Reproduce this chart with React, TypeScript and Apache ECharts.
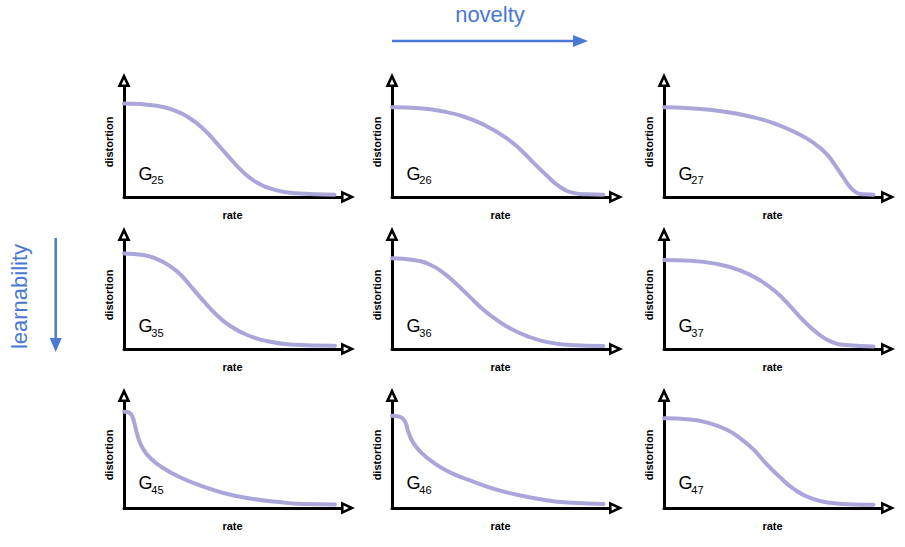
import { useEffect, useRef } from 'react';
import * as echarts from 'echarts';

// Panel identifiers (row digit = learnability level, column digit = novelty level)
const panelIds = ['25', '26', '27', '35', '36', '37', '45', '46', '47'];

// Rate–distortion curves, [rate, distortion] on a 0–100 scale per panel
const g25 = [[0, 85], [15, 83], [24, 78], [30, 72], [36, 63], [42.5, 49.5], [48.5, 36], [55, 22.5], [61, 13.5], [70, 6.3], [79, 3.3], [97, 2.1]];
const g26 = [[0, 81.5], [13, 80.6], [23.7, 77.7], [33, 73.2], [42, 66], [51.4, 55.4], [59, 43.5], [65, 31.5], [71.3, 19.6], [77.4, 9.2], [83.6, 3.8], [89.7, 2.4], [97.4, 2.1]];
const g27 = [[0, 81.5], [12, 80.6], [27.3, 77.7], [39.6, 73.2], [50.4, 67.2], [61, 58.3], [68.8, 49.4], [75, 39], [79.5, 27], [82.6, 18], [85.7, 9.2], [88.8, 3.8], [92, 2.4], [96.5, 2.1]];
const g35 = [[0, 88.5], [9, 87], [15, 83.5], [21, 77], [26, 69], [31, 57.5], [36.6, 44.5], [42.7, 31.5], [48.8, 21.5], [56.5, 13.2], [65.7, 7.4], [76.5, 4.2], [97.2, 3]];
const g36 = [[0, 84], [10, 82.5], [17.6, 78], [23.7, 70.5], [29.8, 60], [36, 48], [42, 36.5], [48.2, 27], [54.4, 19.2], [62, 12.2], [71, 6.6], [82, 3.6], [97.4, 2.7]];
const g37 = [[0, 82.4], [12, 81.8], [24.3, 78.8], [35, 72.7], [44.2, 63.6], [52, 52], [58, 40], [64.2, 26.4], [70.4, 15.2], [76.5, 7.3], [84, 3.6], [96.5, 2.4]];
const g45 = [[0, 90.7], [2.4, 90], [3.9, 86], [5, 78.4], [6.6, 66], [8.9, 55.3], [12.7, 46], [18, 37.7], [25.8, 29], [35, 21.3], [45.8, 14.2], [58, 9], [70.4, 5.9], [82.6, 3.7], [97.2, 3.4]];
const g46 = [[0, 87], [3.7, 86], [6, 81.5], [7.5, 72], [9.8, 61.4], [13.6, 52], [19, 43], [26.7, 33.6], [36, 26], [46.6, 18.2], [58.8, 12], [71, 7.4], [83.4, 4.9], [97.5, 3.7]];
const g47 = [[0, 84.6], [12, 83.6], [21, 80], [29, 73.8], [35, 66], [41.2, 55.3], [47.3, 41.4], [53.5, 29], [59.6, 18.2], [67.3, 9.5], [76.5, 4.9], [87.3, 3.4], [96.5, 3.1]];
const curves = [g25, g26, g27, g35, g36, g37, g45, g46, g47];

// Layout of the 3x3 panel grid (pixels)
const colLeft = [124, 392, 664];
const plotWidth = 217;
const rowAxisY = [197, 349, 508];
const rowTop = [87, 241, 402];
const gLift = [17, 17, 19];
const subLift = [13, 12.5, 14];

const CURVE = '#aba6d9';
const ACCENT = '#4a78d4';
const FONT = '"Liberation Sans", Arial, Helvetica, sans-serif';

// Open (hollow) arrowhead: outer triangle with an inner counter-wound triangle
const hollowArrow = 'path://M6.5 0 L13 14 L0 14 Z M6.5 6.2 L4.1 11.4 L8.9 11.4 Z';

function buildOption() {
  const grid: any[] = [];
  const xAxis: any[] = [];
  const yAxis: any[] = [];
  const series: any[] = [];
  const graphic: any[] = [];

  const axisCommon = {
    type: 'value',
    min: 0,
    max: 100,
    nameLocation: 'middle',
    nameTextStyle: { fontSize: 11, fontWeight: 'bold', color: '#000', fontFamily: FONT },
    axisLine: {
      show: true,
      onZero: false,
      symbol: ['none', hollowArrow],
      symbolSize: [13, 14],
      symbolOffset: [0, 7],
      lineStyle: { color: '#000', width: 3 },
    },
    axisTick: { show: false },
    axisLabel: { show: false },
    splitLine: { show: false },
  };

  panelIds.forEach((id, i) => {
    const r = Math.floor(i / 3);
    const c = i % 3;
    grid.push({
      left: colLeft[c],
      top: rowTop[r],
      width: plotWidth,
      height: rowAxisY[r] - rowTop[r],
    });
    xAxis.push({ ...axisCommon, gridIndex: i, name: 'rate', nameGap: 12 });
    yAxis.push({ ...axisCommon, gridIndex: i, name: 'distortion', nameGap: 10 });
    series.push({
      type: 'line',
      xAxisIndex: i,
      yAxisIndex: i,
      data: curves[i],
      showSymbol: false,
      smooth: 0.5,
      silent: true,
      lineStyle: { color: CURVE, width: 4, cap: 'round', join: 'round' },
    });
    const gBase = rowAxisY[r] - gLift[r];
    const sBase = rowAxisY[r] - subLift[r];
    graphic.push({
      type: 'text',
      x: colLeft[c] + 14.5,
      y: gBase - 0.347 * 18,
      style: { text: 'G', fontSize: 18, fontFamily: FONT, fill: '#000', align: 'left', verticalAlign: 'middle' },
    });
    graphic.push({
      type: 'text',
      x: colLeft[c] + 27.3,
      y: sBase - 0.347 * 11,
      style: { text: id, fontSize: 11, fontFamily: FONT, fill: '#000', align: 'left', verticalAlign: 'middle' },
    });
  });

  // Direction annotations
  graphic.push(
    {
      type: 'text',
      x: 490,
      y: 21.7 - 0.347 * 22,
      style: { text: 'novelty', fontSize: 22, fontFamily: FONT, fill: ACCENT, align: 'center', verticalAlign: 'middle' },
    },
    {
      type: 'line',
      shape: { x1: 392, y1: 41, x2: 575, y2: 41 },
      style: { stroke: ACCENT, lineWidth: 2.5 },
    },
    {
      type: 'polygon',
      shape: { points: [[573, 35], [588, 41], [573, 47]] },
      style: { fill: ACCENT },
    },
    {
      type: 'text',
      x: 19.5,
      y: 296.5,
      rotation: Math.PI / 2,
      style: { text: 'learnability', fontSize: 22, fontFamily: FONT, fill: ACCENT, align: 'center', verticalAlign: 'middle' },
    },
    {
      type: 'line',
      shape: { x1: 55.7, y1: 238, x2: 55.7, y2: 340 },
      style: { stroke: ACCENT, lineWidth: 2.5 },
    },
    {
      type: 'polygon',
      shape: { points: [[49.7, 338], [55.7, 352], [61.7, 338]] },
      style: { fill: ACCENT },
    }
  );

  return {
    animation: false,
    backgroundColor: '#ffffff',
    grid,
    xAxis,
    yAxis,
    series,
    graphic,
  };
}

export default function App() {
  const ref = useRef<HTMLDivElement>(null);

  useEffect(() => {
    if (!ref.current) return;
    const chart = echarts.init(ref.current, undefined, { renderer: 'svg' });
    chart.setOption(buildOption() as any);
    return () => chart.dispose();
  }, []);

  return (
    <div
      ref={ref}
      style={{ position: 'fixed', left: 0, top: 0, width: 905, height: 547, background: '#fff' }}
    />
  );
}
